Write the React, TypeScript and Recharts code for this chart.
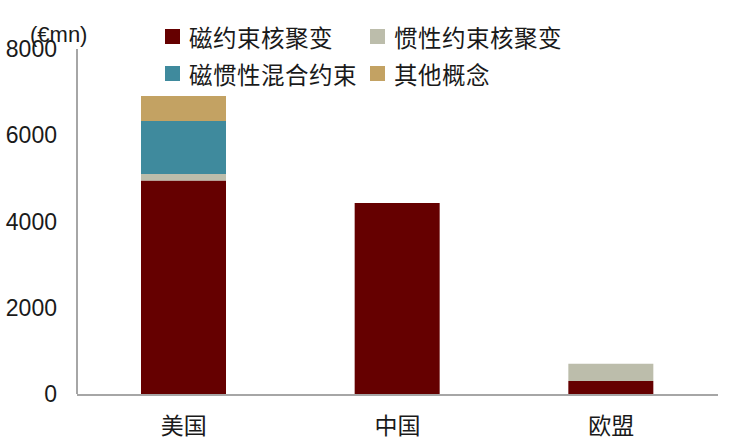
// 各国核聚变私人投资构成 — 堆叠柱状图
import { BarChart, Bar, XAxis, YAxis, Legend } from 'recharts'

const categories = ['美国', '中国', '欧盟']
const magnetic = [4950, 4430, 300]   // 磁约束核聚变
const inertial = [150, 0, 400]       // 惯性约束核聚变
const hybrid = [1230, 0, 0]          // 磁惯性混合约束
const other = [580, 0, 0]            // 其他概念
const yTicks = [0, 2000, 4000, 6000, 8000]

const seriesKeys = ['magnetic', 'inertial', 'hybrid', 'other']
const seriesNames = ['磁约束核聚变', '惯性约束核聚变', '磁惯性混合约束', '其他概念']
const seriesColors = ['#650000', '#bcbdab', '#3f8a9d', '#c3a263']

const data = categories.map((name, i) => ({
  name,
  magnetic: magnetic[i],
  inertial: inertial[i],
  hybrid: hybrid[i],
  other: other[i],
}))

const AXIS = '#a6a6a6'
const LATIN = '"Liberation Sans", Arial, "Noto Sans CJK SC", sans-serif'
const CJK = '"Noto Sans CJK SC", "Liberation Sans", sans-serif'

function LegendBox() {
  return (
    <div
      style={{
        display: 'grid',
        gridTemplateColumns: '205px auto',
        fontFamily: CJK,
        fontSize: 23.5,
        color: '#1a1a1a',
      }}
    >
      {seriesNames.map((n, i) => (
        <div key={n} style={{ display: 'flex', alignItems: 'center', height: 37 }}>
          <span
            style={{
              width: 15,
              height: 15,
              background: seriesColors[i],
              marginRight: 9,
              display: 'inline-block',
            }}
          />
          <span style={{ letterSpacing: 0.5 }}>{n}</span>
        </div>
      ))}
    </div>
  )
}

export default function App() {
  return (
    <div style={{ position: 'absolute', left: 0, top: 0, width: 741, height: 443, background: '#fff' }}>
      <div
        style={{
          position: 'absolute',
          left: 30,
          top: 24,
          fontFamily: LATIN,
          fontSize: 22,
          lineHeight: '22px',
          color: '#1a1a1a',
          zIndex: 2,
        }}
      >
        (€mn)
      </div>
      <BarChart
        width={741}
        height={443}
        data={data}
        margin={{ top: 49, right: 23, left: 0, bottom: 0 }}
        barSize={85}
      >
        {/* 类目轴：只画标签，压在绘图区底边 */}
        <XAxis
          xAxisId="cat"
          dataKey="name"
          axisLine={false}
          tickLine={false}
          tickSize={0}
          tickMargin={24}
          height={1}
          tick={{ fontSize: 23, fill: '#1a1a1a', fontFamily: CJK }}
        />
        {/* 边界轴：画轴线和类目分隔刻度 */}
        <XAxis
          xAxisId="edge"
          type="number"
          domain={[0, 3]}
          ticks={[0, 1, 2, 3]}
          tick={false}
          tickSize={10}
          height={48}
          axisLine={{ stroke: AXIS, strokeWidth: 2 }}
          tickLine={{ stroke: AXIS, strokeWidth: 2 }}
          allowDataOverflow
        />
        <YAxis
          width={77}
          domain={[0, 8000]}
          ticks={yTicks}
          interval={0}
          tickLine={false}
          tickSize={0}
          tickMargin={20}
          axisLine={{ stroke: AXIS, strokeWidth: 2 }}
          tick={{ fontSize: 23, fill: '#1a1a1a', fontFamily: LATIN }}
        />
        <Legend
          layout="horizontal"
          verticalAlign="middle"
          align="center"
          wrapperStyle={{ top: 18, left: 165, width: 440 }}
          content={() => <LegendBox />}
        />
        {seriesKeys.map((k, i) => (
          <Bar
            key={k}
            xAxisId="cat"
            dataKey={k}
            name={seriesNames[i]}
            stackId="a"
            fill={seriesColors[i]}
            isAnimationActive={false}
          />
        ))}
      </BarChart>
    </div>
  )
}
